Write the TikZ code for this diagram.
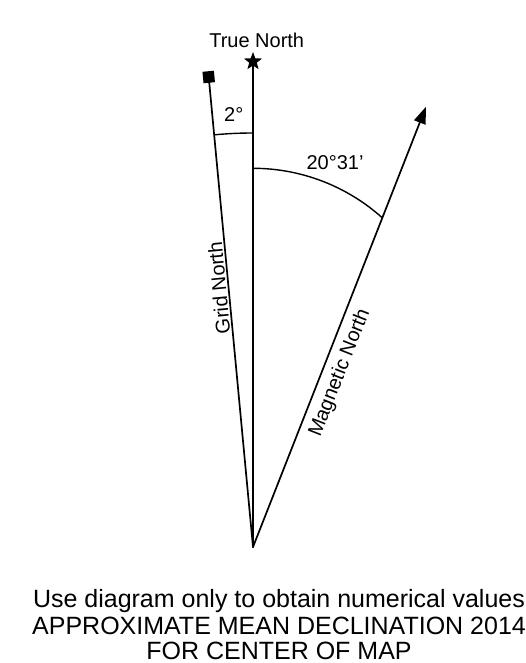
\documentclass[tikz,border=0pt]{standalone}
\usepackage{fontspec}
\setmainfont{Liberation Sans}
\usetikzlibrary{shapes.geometric,arrows.meta}
\begin{document}
\begin{tikzpicture}[x=1pt,y=1pt,
  ray/.style={line width=1.7pt, line cap=round},
  lbl/.style={inner sep=0pt, font=\fontsize{20}{23}\selectfont},
  note/.style={inner sep=0pt, font=\fontsize{25}{30}\selectfont},
  anglearc/.style={line width=1.4pt}]
\useasboundingbox (0,0) rectangle (525,663);
\coordinate (O) at (253,116);
\coordinate (mn) at (426,556.3);
\coordinate (q) at (208.7,586);
\coordinate (s) at (253,601.5);
\draw[ray] (O) -- (s);
\draw[ray] (O) -- (q);
\draw[ray, -{Triangle[length=17pt,width=12pt]}] (O) -- (mn);
\node[star, star points=5, star point ratio=2.4, fill=black, minimum size=19pt, inner sep=0pt] (star) at (s) {};
\node[fill=black, minimum size=11.5pt, inner sep=0pt, rotate=5.38] (sq) at (q) {};
\draw[anglearc] (253,530) arc[start angle=90, end angle=95.38, radius=414pt];
\draw[anglearc] (253,494.7) arc[start angle=90, end angle=48, radius=193.5pt];
\node[lbl, anchor=base] (tn) at (256.7,615) {True North};
\node[lbl, anchor=base] (two) at (233.7,541.3) {2°};
\node[lbl, anchor=base] (dec) at (335,493) {20°31’};
\node[lbl, rotate=95.38] (gn) at (219,375) {Grid North};
\node[lbl, rotate=68.55] (mag) at (340,290) {Magnetic North};
\node[note, anchor=base] (b1) at (279,55) {Use diagram only to obtain numerical values};
\node[note, anchor=base] (b2) at (279,28.6) {APPROXIMATE MEAN DECLINATION 2014};
\node[note, anchor=base] (b3) at (279,3.6) {FOR CENTER OF MAP};
\end{tikzpicture}
\end{document}
